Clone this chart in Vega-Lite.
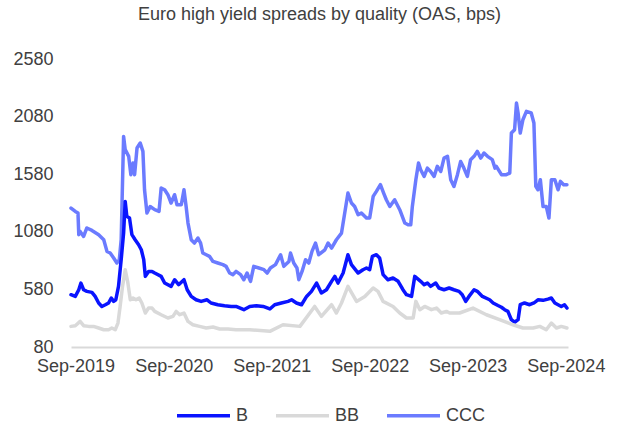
{
  "$schema": "https://vega.github.io/schema/vega-lite/v6.json",
  "autosize": {"type": "none"},
  "width": 497,
  "height": 288,
  "padding": {"left": 71, "top": 59, "right": 55, "bottom": 80},
  "background": "white",
  "title": {
    "text": "Euro high yield spreads by quality (OAS, bps)",
    "font": "Liberation Sans",
    "fontSize": 18,
    "fontWeight": "normal",
    "color": "#404040",
    "anchor": "middle",
    "offset": 26
  },
  "config": {
    "view": {"stroke": null},
    "font": "Liberation Sans"
  },
  "data": {
    "values": [
      {"date": "2019-08-15", "series": "CCC", "value": 1286},
      {"date": "2019-08-31", "series": "CCC", "value": 1257},
      {"date": "2019-09-10", "series": "CCC", "value": 1243},
      {"date": "2019-09-13", "series": "CCC", "value": 1055},
      {"date": "2019-09-18", "series": "CCC", "value": 1083},
      {"date": "2019-10-01", "series": "CCC", "value": 1040},
      {"date": "2019-10-13", "series": "CCC", "value": 1113},
      {"date": "2019-11-01", "series": "CCC", "value": 1092},
      {"date": "2019-11-26", "series": "CCC", "value": 1055},
      {"date": "2019-12-15", "series": "CCC", "value": 1011},
      {"date": "2019-12-27", "series": "CCC", "value": 910},
      {"date": "2020-01-08", "series": "CCC", "value": 896},
      {"date": "2020-01-21", "series": "CCC", "value": 853},
      {"date": "2020-02-02", "series": "CCC", "value": 809},
      {"date": "2020-02-11", "series": "CCC", "value": 838},
      {"date": "2020-02-18", "series": "CCC", "value": 1011},
      {"date": "2020-02-27", "series": "CCC", "value": 1908},
      {"date": "2020-03-04", "series": "CCC", "value": 1793},
      {"date": "2020-03-17", "series": "CCC", "value": 1735},
      {"date": "2020-03-25", "series": "CCC", "value": 1576},
      {"date": "2020-04-02", "series": "CCC", "value": 1677},
      {"date": "2020-04-08", "series": "CCC", "value": 1576},
      {"date": "2020-04-17", "series": "CCC", "value": 1807},
      {"date": "2020-04-29", "series": "CCC", "value": 1851},
      {"date": "2020-05-09", "series": "CCC", "value": 1778},
      {"date": "2020-05-15", "series": "CCC", "value": 1445},
      {"date": "2020-05-24", "series": "CCC", "value": 1243},
      {"date": "2020-06-05", "series": "CCC", "value": 1300},
      {"date": "2020-06-22", "series": "CCC", "value": 1272},
      {"date": "2020-07-08", "series": "CCC", "value": 1257},
      {"date": "2020-07-16", "series": "CCC", "value": 1460},
      {"date": "2020-07-29", "series": "CCC", "value": 1445},
      {"date": "2020-08-10", "series": "CCC", "value": 1402},
      {"date": "2020-08-22", "series": "CCC", "value": 1330},
      {"date": "2020-09-04", "series": "CCC", "value": 1402},
      {"date": "2020-09-13", "series": "CCC", "value": 1315},
      {"date": "2020-09-29", "series": "CCC", "value": 1315},
      {"date": "2020-10-09", "series": "CCC", "value": 1445},
      {"date": "2020-10-17", "series": "CCC", "value": 1300},
      {"date": "2020-10-24", "series": "CCC", "value": 1156},
      {"date": "2020-11-05", "series": "CCC", "value": 1011},
      {"date": "2020-11-17", "series": "CCC", "value": 982},
      {"date": "2020-11-30", "series": "CCC", "value": 1026},
      {"date": "2020-12-10", "series": "CCC", "value": 982},
      {"date": "2020-12-18", "series": "CCC", "value": 896},
      {"date": "2020-12-31", "series": "CCC", "value": 881},
      {"date": "2021-01-12", "series": "CCC", "value": 867},
      {"date": "2021-01-25", "series": "CCC", "value": 823},
      {"date": "2021-02-12", "series": "CCC", "value": 809},
      {"date": "2021-03-03", "series": "CCC", "value": 795},
      {"date": "2021-03-15", "series": "CCC", "value": 780},
      {"date": "2021-03-28", "series": "CCC", "value": 722},
      {"date": "2021-04-09", "series": "CCC", "value": 708},
      {"date": "2021-04-21", "series": "CCC", "value": 736},
      {"date": "2021-05-08", "series": "CCC", "value": 708},
      {"date": "2021-05-20", "series": "CCC", "value": 664},
      {"date": "2021-06-01", "series": "CCC", "value": 722},
      {"date": "2021-06-14", "series": "CCC", "value": 650},
      {"date": "2021-06-26", "series": "CCC", "value": 780},
      {"date": "2021-07-15", "series": "CCC", "value": 766},
      {"date": "2021-08-03", "series": "CCC", "value": 751},
      {"date": "2021-08-15", "series": "CCC", "value": 722},
      {"date": "2021-08-27", "series": "CCC", "value": 766},
      {"date": "2021-09-15", "series": "CCC", "value": 795},
      {"date": "2021-10-04", "series": "CCC", "value": 881},
      {"date": "2021-10-16", "series": "CCC", "value": 780},
      {"date": "2021-11-04", "series": "CCC", "value": 823},
      {"date": "2021-11-10", "series": "CCC", "value": 896},
      {"date": "2021-11-22", "series": "CCC", "value": 809},
      {"date": "2021-12-04", "series": "CCC", "value": 766},
      {"date": "2021-12-11", "series": "CCC", "value": 664},
      {"date": "2021-12-23", "series": "CCC", "value": 736},
      {"date": "2022-01-05", "series": "CCC", "value": 838},
      {"date": "2022-01-17", "series": "CCC", "value": 809},
      {"date": "2022-01-29", "series": "CCC", "value": 910},
      {"date": "2022-02-11", "series": "CCC", "value": 982},
      {"date": "2022-02-23", "series": "CCC", "value": 881},
      {"date": "2022-03-18", "series": "CCC", "value": 924},
      {"date": "2022-03-30", "series": "CCC", "value": 982},
      {"date": "2022-04-12", "series": "CCC", "value": 939},
      {"date": "2022-04-30", "series": "CCC", "value": 1011},
      {"date": "2022-05-19", "series": "CCC", "value": 1069},
      {"date": "2022-05-31", "series": "CCC", "value": 1243},
      {"date": "2022-06-12", "series": "CCC", "value": 1416},
      {"date": "2022-06-25", "series": "CCC", "value": 1330},
      {"date": "2022-07-07", "series": "CCC", "value": 1300},
      {"date": "2022-07-20", "series": "CCC", "value": 1228},
      {"date": "2022-08-01", "series": "CCC", "value": 1243},
      {"date": "2022-08-20", "series": "CCC", "value": 1199},
      {"date": "2022-09-01", "series": "CCC", "value": 1199},
      {"date": "2022-09-14", "series": "CCC", "value": 1387},
      {"date": "2022-09-26", "series": "CCC", "value": 1431},
      {"date": "2022-10-11", "series": "CCC", "value": 1489},
      {"date": "2022-10-23", "series": "CCC", "value": 1416},
      {"date": "2022-11-02", "series": "CCC", "value": 1358},
      {"date": "2022-11-15", "series": "CCC", "value": 1300},
      {"date": "2022-12-03", "series": "CCC", "value": 1358},
      {"date": "2022-12-22", "series": "CCC", "value": 1272},
      {"date": "2023-01-10", "series": "CCC", "value": 1156},
      {"date": "2023-01-22", "series": "CCC", "value": 1141},
      {"date": "2023-02-01", "series": "CCC", "value": 1141},
      {"date": "2023-02-07", "series": "CCC", "value": 1300},
      {"date": "2023-02-20", "series": "CCC", "value": 1532},
      {"date": "2023-03-02", "series": "CCC", "value": 1677},
      {"date": "2023-03-10", "series": "CCC", "value": 1619},
      {"date": "2023-03-23", "series": "CCC", "value": 1561},
      {"date": "2023-04-04", "series": "CCC", "value": 1633},
      {"date": "2023-04-16", "series": "CCC", "value": 1604},
      {"date": "2023-04-29", "series": "CCC", "value": 1561},
      {"date": "2023-05-11", "series": "CCC", "value": 1648},
      {"date": "2023-05-24", "series": "CCC", "value": 1604},
      {"date": "2023-06-05", "series": "CCC", "value": 1720},
      {"date": "2023-06-18", "series": "CCC", "value": 1735},
      {"date": "2023-06-30", "series": "CCC", "value": 1532},
      {"date": "2023-07-12", "series": "CCC", "value": 1474},
      {"date": "2023-07-25", "series": "CCC", "value": 1576},
      {"date": "2023-08-06", "series": "CCC", "value": 1691},
      {"date": "2023-08-18", "series": "CCC", "value": 1633},
      {"date": "2023-08-31", "series": "CCC", "value": 1561},
      {"date": "2023-09-12", "series": "CCC", "value": 1706},
      {"date": "2023-09-25", "series": "CCC", "value": 1735},
      {"date": "2023-10-07", "series": "CCC", "value": 1778},
      {"date": "2023-10-20", "series": "CCC", "value": 1720},
      {"date": "2023-11-01", "series": "CCC", "value": 1764},
      {"date": "2023-11-14", "series": "CCC", "value": 1735},
      {"date": "2023-12-02", "series": "CCC", "value": 1706},
      {"date": "2023-12-12", "series": "CCC", "value": 1633},
      {"date": "2023-12-17", "series": "CCC", "value": 1648},
      {"date": "2024-01-05", "series": "CCC", "value": 1576},
      {"date": "2024-01-23", "series": "CCC", "value": 1576},
      {"date": "2024-02-05", "series": "CCC", "value": 1590},
      {"date": "2024-02-11", "series": "CCC", "value": 1937},
      {"date": "2024-02-23", "series": "CCC", "value": 1966},
      {"date": "2024-03-01", "series": "CCC", "value": 2198},
      {"date": "2024-03-07", "series": "CCC", "value": 2111},
      {"date": "2024-03-15", "series": "CCC", "value": 1937},
      {"date": "2024-03-25", "series": "CCC", "value": 2053},
      {"date": "2024-04-07", "series": "CCC", "value": 2125},
      {"date": "2024-04-25", "series": "CCC", "value": 2111},
      {"date": "2024-05-05", "series": "CCC", "value": 2024},
      {"date": "2024-05-12", "series": "CCC", "value": 1474},
      {"date": "2024-05-20", "series": "CCC", "value": 1445},
      {"date": "2024-05-29", "series": "CCC", "value": 1532},
      {"date": "2024-06-08", "series": "CCC", "value": 1300},
      {"date": "2024-06-20", "series": "CCC", "value": 1300},
      {"date": "2024-06-30", "series": "CCC", "value": 1199},
      {"date": "2024-07-09", "series": "CCC", "value": 1532},
      {"date": "2024-07-22", "series": "CCC", "value": 1532},
      {"date": "2024-08-03", "series": "CCC", "value": 1445},
      {"date": "2024-08-12", "series": "CCC", "value": 1518},
      {"date": "2024-08-24", "series": "CCC", "value": 1489},
      {"date": "2024-09-05", "series": "CCC", "value": 1489},

      {"date": "2019-08-15", "series": "B", "value": 534},
      {"date": "2019-08-31", "series": "B", "value": 519},
      {"date": "2019-09-13", "series": "B", "value": 577},
      {"date": "2019-09-21", "series": "B", "value": 635},
      {"date": "2019-10-01", "series": "B", "value": 577},
      {"date": "2019-10-13", "series": "B", "value": 563},
      {"date": "2019-11-01", "series": "B", "value": 554},
      {"date": "2019-11-13", "series": "B", "value": 519},
      {"date": "2019-11-26", "series": "B", "value": 462},
      {"date": "2019-12-08", "series": "B", "value": 432},
      {"date": "2019-12-21", "series": "B", "value": 447},
      {"date": "2020-01-02", "series": "B", "value": 462},
      {"date": "2020-01-12", "series": "B", "value": 505},
      {"date": "2020-01-21", "series": "B", "value": 476},
      {"date": "2020-01-29", "series": "B", "value": 490},
      {"date": "2020-02-08", "series": "B", "value": 606},
      {"date": "2020-02-18", "series": "B", "value": 838},
      {"date": "2020-02-27", "series": "B", "value": 1069},
      {"date": "2020-03-04", "series": "B", "value": 1344},
      {"date": "2020-03-10", "series": "B", "value": 1214},
      {"date": "2020-03-20", "series": "B", "value": 1199},
      {"date": "2020-03-29", "series": "B", "value": 1055},
      {"date": "2020-04-10", "series": "B", "value": 1011},
      {"date": "2020-04-23", "series": "B", "value": 968},
      {"date": "2020-05-03", "series": "B", "value": 924},
      {"date": "2020-05-12", "series": "B", "value": 838},
      {"date": "2020-05-18", "series": "B", "value": 693},
      {"date": "2020-05-30", "series": "B", "value": 736},
      {"date": "2020-06-12", "series": "B", "value": 736},
      {"date": "2020-06-22", "series": "B", "value": 722},
      {"date": "2020-07-16", "series": "B", "value": 693},
      {"date": "2020-07-29", "series": "B", "value": 635},
      {"date": "2020-08-22", "series": "B", "value": 606},
      {"date": "2020-09-04", "series": "B", "value": 664},
      {"date": "2020-09-19", "series": "B", "value": 621},
      {"date": "2020-10-09", "series": "B", "value": 664},
      {"date": "2020-10-21", "series": "B", "value": 577},
      {"date": "2020-11-05", "series": "B", "value": 519},
      {"date": "2020-11-23", "series": "B", "value": 490},
      {"date": "2020-12-12", "series": "B", "value": 476},
      {"date": "2021-01-03", "series": "B", "value": 490},
      {"date": "2021-01-18", "series": "B", "value": 462},
      {"date": "2021-02-12", "series": "B", "value": 447},
      {"date": "2021-03-09", "series": "B", "value": 438},
      {"date": "2021-04-03", "series": "B", "value": 432},
      {"date": "2021-04-21", "series": "B", "value": 432},
      {"date": "2021-05-20", "series": "B", "value": 404},
      {"date": "2021-06-11", "series": "B", "value": 432},
      {"date": "2021-07-06", "series": "B", "value": 438},
      {"date": "2021-07-31", "series": "B", "value": 432},
      {"date": "2021-08-25", "series": "B", "value": 410},
      {"date": "2021-09-12", "series": "B", "value": 447},
      {"date": "2021-10-07", "series": "B", "value": 462},
      {"date": "2021-11-01", "series": "B", "value": 476},
      {"date": "2021-11-14", "series": "B", "value": 490},
      {"date": "2021-12-02", "series": "B", "value": 462},
      {"date": "2021-12-21", "series": "B", "value": 447},
      {"date": "2022-01-09", "series": "B", "value": 519},
      {"date": "2022-01-27", "series": "B", "value": 563},
      {"date": "2022-02-15", "series": "B", "value": 635},
      {"date": "2022-03-05", "series": "B", "value": 549},
      {"date": "2022-03-24", "series": "B", "value": 577},
      {"date": "2022-04-12", "series": "B", "value": 650},
      {"date": "2022-04-24", "series": "B", "value": 693},
      {"date": "2022-05-06", "series": "B", "value": 635},
      {"date": "2022-05-25", "series": "B", "value": 722},
      {"date": "2022-06-12", "series": "B", "value": 881},
      {"date": "2022-06-25", "series": "B", "value": 795},
      {"date": "2022-07-20", "series": "B", "value": 722},
      {"date": "2022-08-07", "series": "B", "value": 751},
      {"date": "2022-08-20", "series": "B", "value": 766},
      {"date": "2022-09-01", "series": "B", "value": 751},
      {"date": "2022-09-11", "series": "B", "value": 867},
      {"date": "2022-09-26", "series": "B", "value": 881},
      {"date": "2022-10-08", "series": "B", "value": 853},
      {"date": "2022-10-21", "series": "B", "value": 708},
      {"date": "2022-11-08", "series": "B", "value": 664},
      {"date": "2022-11-27", "series": "B", "value": 679},
      {"date": "2022-12-16", "series": "B", "value": 650},
      {"date": "2023-01-03", "series": "B", "value": 577},
      {"date": "2023-01-16", "series": "B", "value": 534},
      {"date": "2023-02-04", "series": "B", "value": 519},
      {"date": "2023-02-16", "series": "B", "value": 693},
      {"date": "2023-03-10", "series": "B", "value": 650},
      {"date": "2023-03-23", "series": "B", "value": 621},
      {"date": "2023-04-04", "series": "B", "value": 635},
      {"date": "2023-04-16", "series": "B", "value": 606},
      {"date": "2023-05-05", "series": "B", "value": 635},
      {"date": "2023-05-17", "series": "B", "value": 592},
      {"date": "2023-06-05", "series": "B", "value": 577},
      {"date": "2023-06-24", "series": "B", "value": 592},
      {"date": "2023-07-12", "series": "B", "value": 577},
      {"date": "2023-07-31", "series": "B", "value": 563},
      {"date": "2023-08-12", "series": "B", "value": 534},
      {"date": "2023-08-25", "series": "B", "value": 476},
      {"date": "2023-09-06", "series": "B", "value": 519},
      {"date": "2023-09-25", "series": "B", "value": 577},
      {"date": "2023-10-07", "series": "B", "value": 563},
      {"date": "2023-10-26", "series": "B", "value": 519},
      {"date": "2023-11-22", "series": "B", "value": 490},
      {"date": "2023-12-05", "series": "B", "value": 462},
      {"date": "2023-12-23", "series": "B", "value": 440},
      {"date": "2024-01-05", "series": "B", "value": 425},
      {"date": "2024-01-17", "series": "B", "value": 404},
      {"date": "2024-01-29", "series": "B", "value": 389},
      {"date": "2024-02-11", "series": "B", "value": 317},
      {"date": "2024-02-23", "series": "B", "value": 295},
      {"date": "2024-03-07", "series": "B", "value": 317},
      {"date": "2024-03-15", "series": "B", "value": 447},
      {"date": "2024-03-31", "series": "B", "value": 462},
      {"date": "2024-04-19", "series": "B", "value": 447},
      {"date": "2024-05-05", "series": "B", "value": 462},
      {"date": "2024-05-20", "series": "B", "value": 490},
      {"date": "2024-06-08", "series": "B", "value": 485},
      {"date": "2024-06-26", "series": "B", "value": 496},
      {"date": "2024-07-09", "series": "B", "value": 505},
      {"date": "2024-07-22", "series": "B", "value": 462},
      {"date": "2024-08-03", "series": "B", "value": 447},
      {"date": "2024-08-15", "series": "B", "value": 432},
      {"date": "2024-08-27", "series": "B", "value": 447},
      {"date": "2024-09-05", "series": "B", "value": 418},

      {"date": "2019-08-15", "series": "BB", "value": 259},
      {"date": "2019-08-31", "series": "BB", "value": 265},
      {"date": "2019-09-18", "series": "BB", "value": 302},
      {"date": "2019-10-01", "series": "BB", "value": 265},
      {"date": "2019-10-20", "series": "BB", "value": 259},
      {"date": "2019-11-07", "series": "BB", "value": 259},
      {"date": "2019-11-26", "series": "BB", "value": 245},
      {"date": "2019-12-15", "series": "BB", "value": 230},
      {"date": "2020-01-02", "series": "BB", "value": 230},
      {"date": "2020-01-14", "series": "BB", "value": 245},
      {"date": "2020-01-27", "series": "BB", "value": 230},
      {"date": "2020-02-06", "series": "BB", "value": 288},
      {"date": "2020-02-14", "series": "BB", "value": 432},
      {"date": "2020-02-23", "series": "BB", "value": 606},
      {"date": "2020-03-04", "series": "BB", "value": 751},
      {"date": "2020-03-13", "series": "BB", "value": 650},
      {"date": "2020-03-23", "series": "BB", "value": 490},
      {"date": "2020-04-02", "series": "BB", "value": 505},
      {"date": "2020-04-13", "series": "BB", "value": 490},
      {"date": "2020-04-25", "series": "BB", "value": 505},
      {"date": "2020-05-05", "series": "BB", "value": 462},
      {"date": "2020-05-18", "series": "BB", "value": 375},
      {"date": "2020-05-30", "series": "BB", "value": 418},
      {"date": "2020-06-12", "series": "BB", "value": 418},
      {"date": "2020-06-22", "series": "BB", "value": 389},
      {"date": "2020-07-16", "series": "BB", "value": 360},
      {"date": "2020-08-10", "series": "BB", "value": 332},
      {"date": "2020-08-29", "series": "BB", "value": 346},
      {"date": "2020-09-10", "series": "BB", "value": 389},
      {"date": "2020-09-23", "series": "BB", "value": 360},
      {"date": "2020-10-09", "series": "BB", "value": 375},
      {"date": "2020-10-24", "series": "BB", "value": 302},
      {"date": "2020-11-11", "series": "BB", "value": 273},
      {"date": "2020-12-06", "series": "BB", "value": 259},
      {"date": "2020-12-31", "series": "BB", "value": 245},
      {"date": "2021-01-25", "series": "BB", "value": 254},
      {"date": "2021-02-19", "series": "BB", "value": 236},
      {"date": "2021-03-22", "series": "BB", "value": 236},
      {"date": "2021-04-21", "series": "BB", "value": 230},
      {"date": "2021-06-11", "series": "BB", "value": 230},
      {"date": "2021-08-25", "series": "BB", "value": 216},
      {"date": "2021-10-13", "series": "BB", "value": 273},
      {"date": "2021-12-15", "series": "BB", "value": 259},
      {"date": "2022-02-08", "series": "BB", "value": 432},
      {"date": "2022-03-05", "series": "BB", "value": 346},
      {"date": "2022-04-12", "series": "BB", "value": 447},
      {"date": "2022-04-30", "series": "BB", "value": 375},
      {"date": "2022-05-19", "series": "BB", "value": 462},
      {"date": "2022-06-12", "series": "BB", "value": 606},
      {"date": "2022-07-14", "series": "BB", "value": 476},
      {"date": "2022-08-14", "series": "BB", "value": 519},
      {"date": "2022-09-14", "series": "BB", "value": 592},
      {"date": "2022-10-02", "series": "BB", "value": 563},
      {"date": "2022-10-21", "series": "BB", "value": 476},
      {"date": "2022-11-27", "series": "BB", "value": 432},
      {"date": "2022-12-22", "series": "BB", "value": 375},
      {"date": "2023-01-16", "series": "BB", "value": 332},
      {"date": "2023-02-10", "series": "BB", "value": 332},
      {"date": "2023-02-20", "series": "BB", "value": 476},
      {"date": "2023-03-07", "series": "BB", "value": 404},
      {"date": "2023-03-25", "series": "BB", "value": 432},
      {"date": "2023-04-19", "series": "BB", "value": 404},
      {"date": "2023-05-08", "series": "BB", "value": 418},
      {"date": "2023-05-26", "series": "BB", "value": 375},
      {"date": "2023-06-14", "series": "BB", "value": 389},
      {"date": "2023-06-26", "series": "BB", "value": 375},
      {"date": "2023-08-02", "series": "BB", "value": 375},
      {"date": "2023-09-21", "series": "BB", "value": 418},
      {"date": "2023-11-10", "series": "BB", "value": 360},
      {"date": "2023-12-29", "series": "BB", "value": 317},
      {"date": "2024-02-17", "series": "BB", "value": 273},
      {"date": "2024-03-25", "series": "BB", "value": 245},
      {"date": "2024-05-02", "series": "BB", "value": 245},
      {"date": "2024-05-27", "series": "BB", "value": 259},
      {"date": "2024-06-20", "series": "BB", "value": 230},
      {"date": "2024-07-09", "series": "BB", "value": 288},
      {"date": "2024-07-28", "series": "BB", "value": 245},
      {"date": "2024-08-15", "series": "BB", "value": 259},
      {"date": "2024-09-05", "series": "BB", "value": 245}
    ]
  },
  "mark": {
    "type": "line",
    "strokeWidth": 3.5,
    "strokeJoin": "round",
    "strokeCap": "round"
  },
  "encoding": {
    "x": {
      "field": "date",
      "type": "temporal",
      "scale": {
        "type": "utc",
        "domain": [
          {"year": 2019, "month": 8, "date": 15, "utc": true},
          {"year": 2024, "month": 9, "date": 9, "utc": true}
        ]
      },
      "axis": {
        "title": null,
        "values": [
          {"year": 2019, "month": 9, "date": 1, "utc": true},
          {"year": 2020, "month": 9, "date": 1, "utc": true},
          {"year": 2021, "month": 9, "date": 1, "utc": true},
          {"year": 2022, "month": 9, "date": 1, "utc": true},
          {"year": 2023, "month": 9, "date": 1, "utc": true},
          {"year": 2024, "month": 9, "date": 1, "utc": true}
        ],
        "labelExpr": "utcFormat(datum.value, '%b-%Y')",
        "grid": false,
        "ticks": false,
        "domain": true,
        "domainColor": "#D9D9D9",
        "domainWidth": 2,
        "labelFont": "Liberation Sans",
        "labelFontSize": 18,
        "labelColor": "#404040",
        "labelPadding": 10,
        "labelOverlap": false,
        "labelFlush": false
      }
    },
    "y": {
      "field": "value",
      "type": "quantitative",
      "scale": {"domain": [80, 2580], "nice": false, "zero": false},
      "axis": {
        "title": null,
        "values": [80, 580, 1080, 1580, 2080, 2580],
        "format": "d",
        "grid": false,
        "ticks": false,
        "domain": false,
        "labelFont": "Liberation Sans",
        "labelFontSize": 18,
        "labelColor": "#404040",
        "labelPadding": 18
      }
    },
    "color": {
      "field": "series",
      "type": "nominal",
      "scale": {
        "domain": ["B", "BB", "CCC"],
        "range": ["#0A14FF", "#D9D9D9", "#6B7BFF"]
      },
      "legend": {
        "title": null,
        "orient": "none",
        "legendX": 104,
        "legendY": 328,
        "direction": "horizontal",
        "symbolType": "stroke",
        "symbolSize": 2809,
        "symbolStrokeWidth": 3.5,
        "labelFont": "Liberation Sans",
        "labelFontSize": 18,
        "labelColor": "#404040",
        "labelOffset": 4,
        "columnPadding": 20,
        "padding": 0
      }
    }
  }
}
